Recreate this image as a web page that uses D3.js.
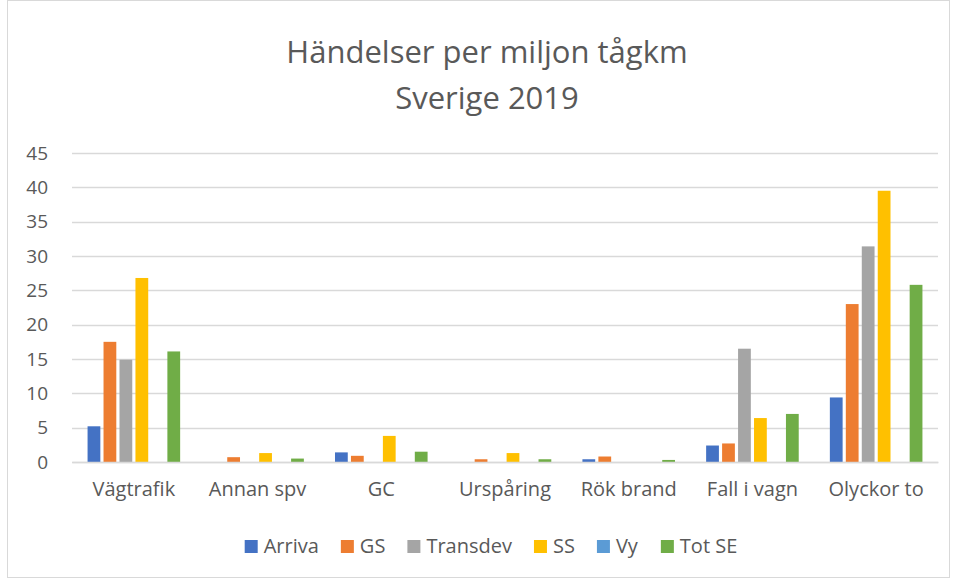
<!DOCTYPE html>
<html>
<head>
<meta charset="utf-8">
<script src="https://cdn.jsdelivr.net/npm/d3@7"></script>
<style>
  body { margin: 0; background: #fff; }
  text { font-family: "Open Sans", sans-serif; fill: #595959; }
</style>
</head>
<body>
<svg id="chart" width="957" height="581"></svg>
<script>
// categories and series
var categories = ["Vägtrafik", "Annan spv", "GC", "Urspåring", "Rök brand", "Fall i vagn", "Olyckor to"];
var seriesNames = ["Arriva", "GS", "Transdev", "SS", "Vy", "Tot SE"];
var seriesColors = ["#4472c4", "#ed7d31", "#a5a5a5", "#ffc000", "#5b9bd5", "#70ad47"];
var arriva   = [5.2, 0, 1.4, 0, 0.4, 2.4, 9.4];
var gs       = [17.5, 0.7, 0.9, 0.4, 0.8, 2.7, 23.0];
var transdev = [14.9, 0, 0, 0, 0, 16.5, 31.4];
var ss       = [26.8, 1.3, 3.8, 1.3, 0, 6.4, 39.5];
var vy       = [0, 0, 0, 0, 0, 0, 0];
var totSE    = [16.1, 0.5, 1.5, 0.4, 0.3, 7.0, 25.8];
var yTicks = [0, 5, 10, 15, 20, 25, 30, 35, 40, 45];

var seriesValues = [arriva, gs, transdev, ss, vy, totSE];
var font = "'Open Sans', sans-serif";

var svg = d3.select("#chart");
var margin = { top: 153, right: 19, bottom: 119, left: 72 },
    width = 957, height = 581,
    innerWidth = width - margin.left - margin.right,
    innerHeight = height - margin.top - margin.bottom;

// outer frame
svg.append("rect")
  .attr("x", 7.5).attr("y", 0.5)
  .attr("width", 942).attr("height", 577)
  .attr("fill", "none").attr("stroke", "#d9d9d9");

// title
svg.append("text").attr("x", 487).attr("y", 63)
  .attr("text-anchor", "middle").style("font-size", "31px")
  .text("Händelser per miljon tågkm");
svg.append("text").attr("x", 487).attr("y", 109)
  .attr("text-anchor", "middle").style("font-size", "31px")
  .text("Sverige 2019");

var g = svg.append("g")
  .attr("transform", "translate(" + margin.left + "," + margin.top + ")");

var x0 = d3.scaleBand().domain(categories).range([0, innerWidth])
  .paddingInner(0.2).paddingOuter(0.1);
var x1 = d3.scaleBand().domain(seriesNames).range([0, x0.bandwidth()]).padding(0.2);
var y = d3.scaleLinear().domain([0, 45]).range([innerHeight, 0]);

// gridlines
g.selectAll(".grid").data(yTicks).enter().append("line")
  .attr("class", "grid")
  .attr("x1", 0).attr("x2", innerWidth)
  .attr("y1", function (d) { return Math.round(y(d)) + 0.5; })
  .attr("y2", function (d) { return Math.round(y(d)) + 0.5; })
  .attr("stroke", "#d9d9d9").attr("stroke-width", 1.5);

// y axis labels
var yAxis = g.append("g").call(d3.axisLeft(y).tickValues(yTicks).tickSize(0).tickPadding(24));
yAxis.select(".domain").remove();
yAxis.selectAll("text").style("font-size", "19px").style("fill", "#595959")
  .style("font-family", font);

// bars
var groups = g.selectAll(".cat").data(categories).enter().append("g")
  .attr("class", "cat")
  .attr("transform", function (d) { return "translate(" + x0(d) + ",0)"; });

groups.selectAll("rect")
  .data(function (d, i) {
    return seriesNames.map(function (s, j) { return { name: s, value: seriesValues[j][i], color: seriesColors[j] }; });
  })
  .enter().append("rect")
  .attr("x", function (d) { return x1(d.name); })
  .attr("y", function (d) { return y(d.value); })
  .attr("width", x1.bandwidth())
  .attr("height", function (d) { return innerHeight - y(d.value); })
  .attr("fill", function (d) { return d.color; });

// x axis
var xAxis = g.append("g").attr("transform", "translate(0," + innerHeight + ")")
  .call(d3.axisBottom(x0).tickSize(0).tickPadding(20));
xAxis.select(".domain").attr("stroke", "#d9d9d9").attr("stroke-width", 1.5);
xAxis.selectAll("text").style("font-size", "20px").style("fill", "#595959")
  .style("font-family", font);

// legend
var legend = svg.append("g").attr("transform", "translate(0,546)");
var items = legend.selectAll(".item").data(seriesNames).enter().append("g").attr("class", "item");
items.append("rect").attr("width", 13).attr("height", 13).attr("y", -6)
  .attr("fill", function (d, i) { return seriesColors[i]; });
items.append("text").attr("x", 19).attr("dy", "0.35em")
  .style("font-size", "20px").text(function (d) { return d; });
var gap = 22, xPos = 0, offsets = [];
items.each(function () {
  offsets.push(xPos);
  xPos += this.getBBox().width + gap;
});
var startX = 491 - (xPos - gap) / 2;
items.attr("transform", function (d, i) { return "translate(" + (startX + offsets[i]) + ",0)"; });
</script>
</body>
</html>
